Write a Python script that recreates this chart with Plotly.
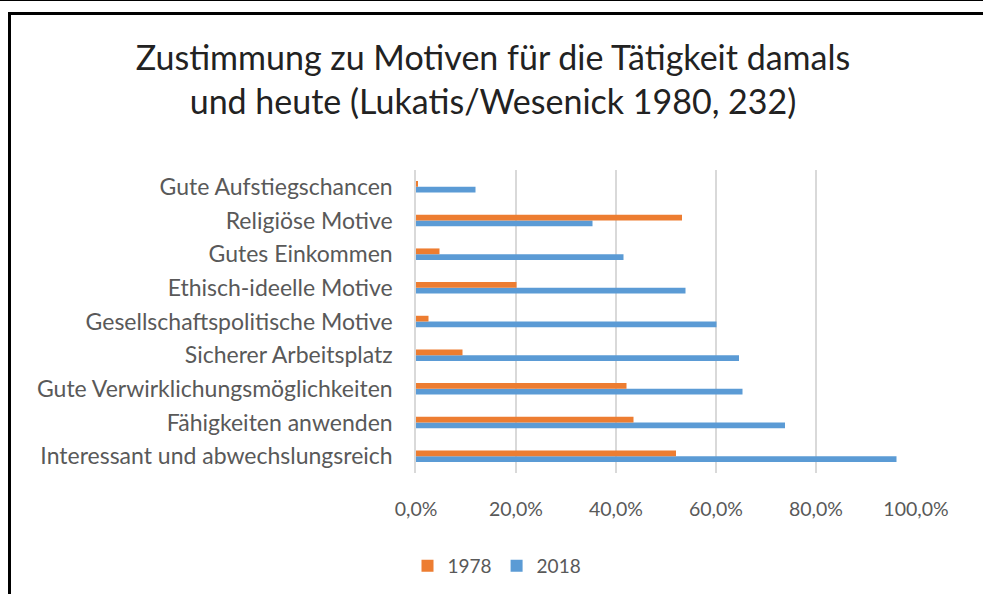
import plotly.graph_objects as go

categories = [
    "Gute Aufstiegschancen",
    "Religiöse Motive",
    "Gutes Einkommen",
    "Ethisch-ideelle Motive",
    "Gesellschaftspolitische Motive",
    "Sicherer Arbeitsplatz",
    "Gute Verwirklichungsmöglichkeiten",
    "Fähigkeiten anwenden",
    "Interessant und abwechslungsreich",
]
values_1978 = [0.003, 0.532, 0.047, 0.201, 0.025, 0.093, 0.421, 0.435, 0.520]
values_2018 = [0.119, 0.353, 0.415, 0.539, 0.601, 0.646, 0.653, 0.738, 0.961]
series_names = ["1978", "2018"]
x_ticks = [0, 0.2, 0.4, 0.6, 0.8, 1.0]

ORANGE = "#ED7D31"
BLUE = "#5B9BD5"
FONT = "Lato"
GREY = "#595959"

W, H = 983, 594
L, R, T, B = 416, 916, 170, 473  # plot area in pixels

def px(x):
    return (x - L) / (R - L)

def py(y):
    return 1 - (y - T) / (B - T)

fig = go.Figure()
# 2018 first so that 1978 sits above it within each group
fig.add_trace(go.Bar(y=categories, x=values_2018, name=series_names[1], orientation="h",
                     marker=dict(color=BLUE, line=dict(width=0)), legendrank=2))
fig.add_trace(go.Bar(y=categories, x=values_1978, name=series_names[0], orientation="h",
                     marker=dict(color=ORANGE, line=dict(width=0)), legendrank=1))

fig.update_layout(
    width=W, height=H,
    margin=dict(l=L, r=W - R, t=T, b=H - B, autoexpand=False),
    paper_bgcolor="white", plot_bgcolor="white",
    barmode="group", bargap=0.66, bargroupgap=0,
    separators=",.",
    font=dict(family=FONT, color=GREY, size=16),
    title=dict(
        text="Zustimmung zu Motiven für die Tätigkeit damals<br>und heute (Lukatis/Wesenick 1980, 232)",
        font=dict(family=FONT, size=34, color="#222222"),
        x=493 / W, xanchor="center", xref="container",
        y=1 - 70 / H, yanchor="middle", yref="container",
    ),
    legend=dict(
        orientation="h", x=px(497), xanchor="center", y=py(566), yanchor="middle",
        font=dict(family=FONT, size=19, color=GREY), itemwidth=30,
        traceorder="normal",
    ),
    showlegend=True,
)
fig.update_xaxes(
    range=[0, 1], tickvals=x_ticks, tickformat=".1%",
    showgrid=True, gridcolor="#D9D9D9", gridwidth=1.5,
    zeroline=False, showline=False,
    ticks="", tickfont=dict(size=19.5, color=GREY), ticklabelstandoff=22,
)
fig.update_yaxes(
    categoryorder="array", categoryarray=list(reversed(categories)),
    showline=True, linecolor="#D9D9D9", linewidth=1.5,
    ticks="", tickfont=dict(size=23, color=GREY), ticklabelstandoff=17,
    showgrid=False,
)

# frame lines of the original screenshot
fig.add_shape(type="line", xref="paper", yref="paper", x0=px(0), x1=px(W), y0=py(0.5), y1=py(0.5),
              line=dict(color="black", width=1))
fig.add_shape(type="line", xref="paper", yref="paper", x0=px(8), x1=px(W), y0=py(13.5), y1=py(13.5),
              line=dict(color="black", width=3))
fig.add_shape(type="line", xref="paper", yref="paper", x0=px(9.5), x1=px(9.5), y0=py(12), y1=py(H),
              line=dict(color="black", width=3))

fig.write_html("out.html", config={"displayModeBar": False},
               post_script="document.body.style.margin='0';document.body.style.overflow='hidden';")
